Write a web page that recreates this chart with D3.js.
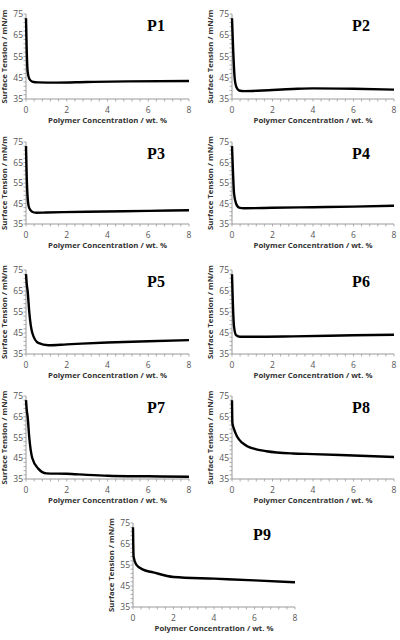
<!DOCTYPE html>
<html>
<head>
<meta charset="utf-8">
<script src="https://cdn.jsdelivr.net/npm/d3@7"></script>
<style>
  body { margin: 0; background: #fff; }
  svg { display: block; }
</style>
</head>
<body>
<svg id="chart"></svg>
<script>
// data: concentration (wt. %) vs surface tension (mN/m)
const panelNames = ['P1', 'P2', 'P3', 'P4', 'P5', 'P6', 'P7', 'P8', 'P9'];

const p1Conc = [0, 0.03, 0.08, 0.16, 0.3, 0.6, 1.5, 3, 5, 8];
const p1Tension = [73, 60, 48, 44.5, 43.2, 42.8, 42.7, 43, 43.3, 43.5];

const p2Conc = [0, 0.05, 0.13, 0.22, 0.35, 0.6, 1.5, 3, 4, 6, 8];
const p2Tension = [73, 60, 45, 40.5, 39, 38.7, 39, 39.7, 40, 39.8, 39.4];

const p3Conc = [0, 0.03, 0.08, 0.15, 0.3, 0.5, 1, 3, 6, 8];
const p3Tension = [73, 60, 48, 43, 41, 40.5, 40.6, 41, 41.4, 41.7];

const p4Conc = [0, 0.05, 0.1, 0.2, 0.35, 0.6, 2, 4, 6, 8];
const p4Tension = [73, 60, 50, 45, 43, 42.7, 42.9, 43.2, 43.5, 43.9];

const p5Conc = [0, 0.04, 0.08, 0.16, 0.31, 0.6, 1.1, 2, 4, 6, 8];
const p5Tension = [73, 68, 65, 55, 45, 40.3, 39.2, 39.6, 40.5, 41.1, 41.6];

const p6Conc = [0, 0.04, 0.1, 0.2, 0.4, 1, 3, 6, 8];
const p6Tension = [73, 60, 48, 44, 43.2, 43.2, 43.4, 43.9, 44.2];

const p7Conc = [0, 0.04, 0.08, 0.16, 0.31, 0.6, 1, 2, 3, 4, 6, 8];
const p7Tension = [73, 68, 65, 55, 45, 40, 37.7, 37.5, 37, 36.6, 36.3, 36.1];

const p8Conc = [0, 0.02, 0.1, 0.25, 0.5, 0.75, 1.2, 1.7, 3, 4, 6, 8];
const p8Tension = [73, 62, 59, 55.5, 52.5, 50.8, 49.3, 48.4, 47.3, 47, 46.3, 45.6];

const p9Conc = [0, 0.03, 0.16, 0.5, 1, 2, 4, 6, 8];
const p9Tension = [73, 59, 55.2, 52.8, 51.5, 49.3, 48.5, 47.7, 46.8];

const xTicks = [0, 2, 4, 6, 8];
const yTicks = [35, 45, 55, 65, 75];

const concs = [p1Conc, p2Conc, p3Conc, p4Conc, p5Conc, p6Conc, p7Conc, p8Conc, p9Conc];
const tensions = [p1Tension, p2Tension, p3Tension, p4Tension, p5Tension, p6Tension, p7Tension, p8Tension, p9Tension];

const width = 400, height = 640;
const svg = d3.select('#chart').attr('width', width).attr('height', height);
svg.append('rect').attr('width', width).attr('height', height).attr('fill', '#fff');

// panel plot boxes
const rowTop = [14, 142, 270, 396, 523];
const rowBottom = [99, 224, 354, 479, 607];
const colLeft = [26, 232];
const colRight = [189, 394];

const axisColor = '#9a9a9a';
const tickColor = '#555';

panelNames.forEach((name, i) => {
  const row = Math.floor(i / 2);
  let left, right;
  if (i === 8) { left = 133; right = 295; }
  else { left = colLeft[i % 2]; right = colRight[i % 2]; }
  const top = rowTop[row], bottom = rowBottom[row];

  const x = d3.scaleLinear().domain([0, 8]).range([left, right]);
  const y = d3.scaleLinear().domain([35, 75]).range([bottom, top]);

  const g = svg.append('g').attr('id', name);

  // minor ticks
  const xMinor = d3.range(0, 8.001, 0.4);
  const yMinor = d3.range(35, 75.001, 2);
  g.selectAll('.xminor').data(xMinor).enter().append('line')
    .attr('x1', d => x(d)).attr('x2', d => x(d))
    .attr('y1', bottom).attr('y2', bottom + 2.5)
    .attr('stroke', axisColor).attr('stroke-width', 0.8);
  g.selectAll('.yminor').data(yMinor).enter().append('line')
    .attr('x1', left - 2.5).attr('x2', left)
    .attr('y1', d => y(d)).attr('y2', d => y(d))
    .attr('stroke', axisColor).attr('stroke-width', 0.8);

  // axis lines
  g.append('line').attr('x1', left).attr('x2', right)
    .attr('y1', bottom).attr('y2', bottom)
    .attr('stroke', axisColor).attr('stroke-width', 1);
  g.append('line').attr('x1', left).attr('x2', left)
    .attr('y1', top).attr('y2', bottom)
    .attr('stroke', axisColor).attr('stroke-width', 1);

  // tick labels
  g.selectAll('.xlab').data(xTicks).enter().append('text')
    .attr('x', d => x(d)).attr('y', bottom + 13.5)
    .attr('text-anchor', 'middle')
    .attr('font-family', 'Open Sans, sans-serif')
    .attr('font-size', 8.5).attr('fill', tickColor)
    .text(d => d);
  g.selectAll('.ylab').data(yTicks).enter().append('text')
    .attr('x', left - 3).attr('y', d => y(d) + 3)
    .attr('text-anchor', 'end')
    .attr('font-family', 'Open Sans, sans-serif')
    .attr('font-size', 8.5).attr('fill', tickColor)
    .text(d => d);

  // axis titles
  g.append('text')
    .attr('x', (left + right) / 2).attr('y', bottom + 24)
    .attr('text-anchor', 'middle')
    .attr('font-family', 'Open Sans, sans-serif')
    .attr('font-weight', 'bold')
    .attr('font-size', 7.8).attr('fill', '#333')
    .text('Polymer Concentration / wt. %');
  g.append('text')
    .attr('transform', `translate(${left - 19},${(top + bottom) / 2}) rotate(-90)`)
    .attr('text-anchor', 'middle')
    .attr('font-family', 'Open Sans, sans-serif')
    .attr('font-weight', 'bold')
    .attr('font-size', 7.8).attr('fill', '#333')
    .text('Surface Tension / mN/m');

  // curve
  const pts = concs[i].map((c, k) => [c, tensions[i][k]]);
  const line = d3.line()
    .x(d => x(d[0])).y(d => y(d[1]))
    .curve(d3.curveMonotoneX);
  g.append('path')
    .attr('d', line(pts))
    .attr('fill', 'none')
    .attr('stroke', '#000')
    .attr('stroke-width', 2.4)
    .attr('stroke-linejoin', 'round');

  // panel label
  g.append('text')
    .attr('x', right - 33).attr('y', top + 17)
    .attr('text-anchor', 'middle')
    .attr('font-family', 'Liberation Serif, Times New Roman, serif')
    .attr('font-weight', 'bold')
    .attr('font-size', 16).attr('fill', '#000')
    .text(name);
});
</script>
</body>
</html>
